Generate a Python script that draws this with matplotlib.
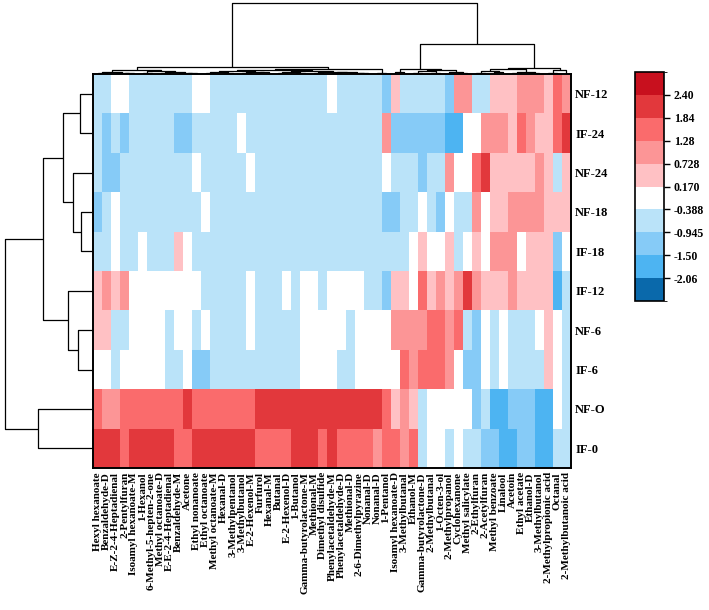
import numpy as np
import matplotlib
matplotlib.use("Agg")
import matplotlib.pyplot as plt
from matplotlib.colors import ListedColormap, BoundaryNorm

plt.rcParams['font.family'] = ['Liberation Serif', 'DejaVu Serif']

samples = ["NF-12", "IF-24", "NF-24", "NF-18", "IF-18", "IF-12", "NF-6", "IF-6", "NF-O", "IF-0"]

compounds = [
    "Hexyl hexanoate", "Benzaldehyde-D", "E-Z-2-4-Heptadienal", "2-Pentylfuran",
    "Isoamyl hexanoate-M", "1-Hexanol", "6-Methyl-5-hepten-2-one", "Methyl octanoate-D",
    "E-E-2-4-Heptadienal", "Benzaldehyde-M", "Acetone", "Ethyl nonanoate",
    "Ethyl octanoate", "Methyl octanoate-M", "Hexanal-D", "3-Methylpentanol",
    "3-Methylbutanol", "E-2-Hexenol-M", "Furfurol", "Hexanal-M", "Butanal",
    "E-2-Hexenol-D", "1-Butanol", "Gamma-butyrolactone-M", "Methional-M",
    "Dimethyl disulfide", "Phenylacetaldehyde-M", "Phenylacetaldehyde-D",
    "Methional-D", "2-6-Dimethylpyrazine", "Nonanal-D", "Nonanal-D", "1-Pentanol",
    "Isoamyl hexanoate-D", "3-Methylbutanal", "Ethanol-M", "Gamma-butyrolactone-D",
    "2-Methylbutanal", "1-Octen-3-ol", "2-Methylpropanol", "Cyclohexanone",
    "Methyl salicylate", "2-Ethylfuran", "2-Acetylfuran", "Methyl benzoate",
    "Linalool", "Acetoin", "Ethyl acetate", "Ethanol-D", "3-Methylbutanol",
    "2-Methylpropionic acid", "Octanal", "2-Methylbutanoic acid",
]

nf12 = [-0.65, -0.65, -0.1, -0.1, -0.65, -0.65, -0.65, -0.65, -0.65, -0.65, -0.65, -0.1, -0.1,
        -0.65, -0.65, -0.65, -0.65, -0.65, -0.65, -0.65, -0.65, -0.65, -0.65, -0.65, -0.65, -0.65,
        -0.1, -0.65, -0.65, -0.65, -0.65, -0.65, -1.2, 0.45, -0.65, -0.65, -0.65, -0.65, -0.65,
        -1.2, 1.0, 1.0, -0.65, -0.65, 0.45, 0.45, 0.45, 1.0, 1.0, 1.0, 0.45, 1.55, 1.0]
if24 = [-0.65, -1.2, -0.65, -1.2, -0.65, -0.65, -0.65, -0.65, -0.65, -1.2, -1.2, -0.65, -0.65,
        -0.65, -0.65, -0.65, -0.1, -0.65, -0.65, -0.65, -0.65, -0.65, -0.65, -0.65, -0.65, -0.65,
        -0.65, -0.65, -0.65, -0.65, -0.65, -0.65, 1.0, -1.2, -1.2, -1.2, -1.2, -1.2, -1.2,
        -1.8, -1.8, -0.1, -0.1, 1.0, 1.0, 1.0, 0.45, 1.55, 1.0, 0.45, 0.45, 1.55, 2.1]
nf24 = [-0.65, -1.2, -1.2, -0.65, -0.65, -0.65, -0.65, -0.65, -0.65, -0.65, -0.65, -0.1, -0.65,
        -0.65, -0.65, -0.65, -0.65, -0.1, -0.65, -0.65, -0.65, -0.65, -0.65, -0.65, -0.65, -0.65,
        -0.65, -0.65, -0.65, -0.65, -0.65, -0.65, -0.1, -0.65, -0.65, -0.65, -1.2, -0.65, -0.65,
        1.0, -0.1, -0.1, 1.55, 2.1, 0.45, 0.45, 0.45, 0.45, 0.45, 1.0, 0.45, -0.65, 0.45]
nf18 = [-1.2, -0.65, -0.1, -0.65, -0.65, -0.65, -0.65, -0.65, -0.65, -0.65, -0.65, -0.65, -0.1,
        -0.65, -0.65, -0.65, -0.65, -0.65, -0.65, -0.65, -0.65, -0.65, -0.65, -0.65, -0.65, -0.65,
        -0.65, -0.65, -0.65, -0.65, -0.65, -0.65, -1.2, -1.2, -0.65, -0.65, -0.1, -0.65, -1.2,
        -0.1, -0.65, -0.65, 1.0, -0.1, 0.45, 0.45, 1.0, 1.0, 1.0, 1.0, 0.45, 0.45, 0.45]
if18 = [-0.65, -0.65, -0.1, -0.65, -0.65, -0.1, -0.65, -0.65, -0.65, 0.45, -0.1, -0.65, -0.65,
        -0.65, -0.65, -0.65, -0.65, -0.65, -0.65, -0.65, -0.65, -0.65, -0.65, -0.65, -0.65, -0.65,
        -0.65, -0.65, -0.65, -0.65, -0.65, -0.65, -0.65, -0.65, -0.65, -0.1, 0.45, -0.1, -0.1,
        0.45, -0.65, -0.1, 0.45, -0.1, 1.0, 1.0, 1.0, -0.1, 0.45, 0.45, 0.45, -1.2, -0.1]
if12 = [0.45, 1.0, 0.45, 1.0, -0.1, -0.1, -0.1, -0.1, -0.1, -0.1, -0.1, -0.1, -0.65,
        -0.65, -0.65, -0.65, -0.65, -0.1, -0.65, -0.65, -0.65, -0.1, -0.65, -0.1, -0.1, -0.65,
        -0.1, -0.1, -0.1, -0.1, -0.65, -0.65, -1.2, 0.45, 0.45, -0.1, 1.55, 0.45, 1.0,
        0.45, 1.0, 2.1, 1.0, 0.45, 0.45, 0.45, 1.0, 0.45, 0.45, 0.45, 0.45, -1.8, -0.65]
nf6 = [0.45, 0.45, -0.65, -0.65, -0.1, -0.1, -0.1, -0.1, -0.65, -0.1, -0.1, -0.65, -0.1,
       -0.65, -0.65, -0.65, -0.65, -0.1, -0.65, -0.65, -0.65, -0.65, -0.65, -0.1, -0.1, -0.1,
       -0.1, -0.1, -0.65, -0.1, -0.1, -0.1, -0.1, 1.0, 1.0, 1.0, 1.0, 1.55, 1.55,
       1.0, 1.55, -0.65, -1.2, -0.1, -0.65, -0.1, -0.65, -0.65, -0.65, -0.1, 0.45, -0.1, -0.65]
if6 = [-0.1, -0.1, -0.65, -0.1, -0.1, -0.1, -0.1, -0.1, -0.65, -0.65, -0.1, -1.2, -1.2,
       -0.65, -0.65, -0.65, -0.65, -0.65, -0.65, -0.65, -0.65, -0.65, -0.65, -0.1, -0.1, -0.1,
       -0.1, -0.65, -0.65, -0.1, -0.1, -0.1, -0.1, -0.1, 1.55, 1.0, 1.55, 1.55, 1.55,
       1.0, -0.1, -1.2, -1.2, -0.1, -0.65, -0.1, -0.65, -0.65, -0.65, -0.65, 0.45, -0.1, -0.65]
nf0 = [1.55, 1.0, 1.0, 1.55, 1.55, 1.55, 1.55, 1.55, 1.55, 1.55, 2.1, 1.55, 1.55,
       1.55, 1.55, 1.55, 1.55, 1.55, 2.1, 2.1, 2.1, 2.1, 2.1, 2.1, 2.1, 2.1,
       2.1, 2.1, 2.1, 2.1, 2.1, 2.1, 1.55, 0.45, 1.0, 0.45, -0.65, -0.1, -0.1,
       -0.1, -0.1, -0.1, -1.2, -0.65, -1.8, -1.8, -1.2, -1.2, -1.2, -1.8, -1.8, -0.1, -0.65]
if0 = [2.1, 2.1, 2.1, 1.55, 2.1, 2.1, 2.1, 2.1, 2.1, 1.55, 1.55, 2.1, 2.1,
       2.1, 2.1, 2.1, 2.1, 2.1, 1.55, 1.55, 1.55, 1.55, 2.1, 2.1, 2.1, 1.55,
       2.1, 1.55, 1.55, 1.55, 1.55, 1.0, 1.55, 1.55, 1.0, 1.55, -0.65, -0.1, -0.1,
       -0.65, -0.1, -0.65, -0.65, -1.2, -1.2, -1.8, -1.8, -1.2, -1.2, -1.8, -1.8, -0.65, -0.65]

bounds = [-2.62, -2.06, -1.50, -0.945, -0.388, 0.170, 0.728, 1.28, 1.84, 2.40, 2.96]
tick_labels = ["-2.06", "-1.50", "-0.945", "-0.388", "0.170", "0.728", "1.28", "1.84", "2.40"]
colors = ["#0A69AB", "#4DB4F2", "#86CBF7", "#BAE3F9", "#FFFFFF",
          "#FFC1C4", "#FC9596", "#FA6B6C", "#E2383C", "#C8101E"]

# dendrogram trees: (height, left, right), leaves are indices
col_tree = (71,
    (7,
        (4.5,
            (2.5, (1.5, 0, 1), (1.2, 2, (0.8, 3, 4))),
            (3.0, (1.5, 5, 6), (2.0, (1.0, 7, 8), (1.2, 9, (0.6, 10, 11))))),
        (5.5,
            (4.0,
                (3.0, (2.0, (1.0, 12, 13), (1.5, 14, 15)), (2.5, (1.0, 16, 17), (1.8, 18, 19))),
                (3.5, (2.0, (0.8, 20, 21), (1.2, 22, 23)),
                      (2.5, (1.5, 24, 25), (1.8, (1.0, 26, 27), (1.2, 28, (0.7, 29, 30)))))),
            (1.5, 31, 32))),
    (30,
        (5.0, (2.5, 33, 34),
              (4.0, (3.0, (1.0, 35, 36), (1.5, 37, 38)), (2.0, 39, (1.2, 40, 41)))),
        (6.0, (5.0, (3.0, (1.5, 42, 43), (2.0, 44, 45)), (2.5, (1.0, 46, 47), (1.5, 48, 49))),
              (4.0, (1.2, 50, 51), 52))))

row_tree = (88,
    (50,
        (30, (13, 0, 1), (20, 2, (12, 3, 4))),
        (25, 5, (15, 6, 7))),
    (55, 8, 9))

data = np.array([nf12, if24, nf24, nf18, if18, if12, nf6, if6, nf0, if0])

W, H = 709, 610
fig = plt.figure(figsize=(W / 100, H / 100), dpi=100)

def fx(px):
    return px / W

def fy(py):
    return 1 - py / H

hm_l, hm_r, hm_t, hm_b = 93, 571, 74, 468
ax = fig.add_axes([fx(hm_l), fy(hm_b), fx(hm_r - hm_l), (hm_b - hm_t) / H])
cmap = ListedColormap(colors)
norm = BoundaryNorm(bounds, cmap.N)
nr, nc = data.shape
mesh = ax.pcolormesh(np.arange(nc + 1), np.arange(nr + 1), data, cmap=cmap, norm=norm)
ax.set_xlim(0, nc)
ax.set_ylim(nr, 0)
ax.set_xticks(np.arange(nc) + 0.5)
ax.set_xticklabels(compounds, rotation=90, fontsize=8, fontweight='bold')
ax.set_yticks(np.arange(nr) + 0.5)
ax.set_yticklabels(samples, fontsize=9, fontweight='bold')
ax.yaxis.tick_right()
ax.tick_params(axis='both', length=0, pad=3)
for s in ax.spines.values():
    s.set_linewidth(1.4)
    s.set_color('black')


def draw_tree(a, node, orient):
    if isinstance(node, int):
        return node + 0.5, 0.0
    h, left, right = node
    p1, h1 = draw_tree(a, left, orient)
    p2, h2 = draw_tree(a, right, orient)
    if orient == 'top':
        a.plot([p1, p1, p2, p2], [h1, h, h, h2], color='black', lw=0.9, solid_capstyle='butt')
    else:
        a.plot([h1, h, h, h2], [p1, p1, p2, p2], color='black', lw=0.9, solid_capstyle='butt')
    return (p1 + p2) / 2, h

# column dendrogram
axc = fig.add_axes([fx(hm_l), fy(hm_t), fx(hm_r - hm_l), hm_t / H])
draw_tree(axc, col_tree, 'top')
axc.set_xlim(0, nc)
axc.set_ylim(0, hm_t)
axc.axis('off')

# row dendrogram
axr = fig.add_axes([0, fy(hm_b), fx(hm_l), (hm_b - hm_t) / H])
draw_tree(axr, row_tree, 'left')
axr.set_ylim(nr, 0)
axr.set_xlim(hm_l, 0)
axr.axis('off')

# colorbar
cb_l, cb_r, cb_t, cb_b = 635, 664, 72, 301
cax = fig.add_axes([fx(cb_l), fy(cb_b), fx(cb_r - cb_l), (cb_b - cb_t) / H])
cb = fig.colorbar(mesh, cax=cax, ticks=bounds[1:-1], spacing='uniform')
cb.ax.set_yticklabels(tick_labels, fontsize=8.5, fontweight='bold')
cb.ax.tick_params(length=4, width=1, pad=3)
cb.outline.set_linewidth(1.2)

fig.savefig("out.png", dpi=100)
